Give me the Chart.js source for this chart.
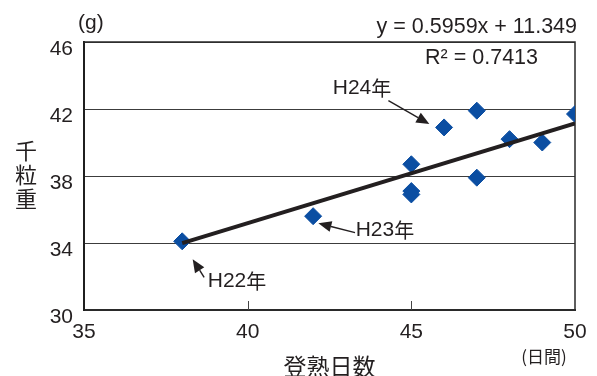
<!DOCTYPE html>
<html>
<head>
<meta charset="utf-8">
<script src="https://cdn.jsdelivr.net/npm/chart.js@4/dist/chart.umd.min.js"></script>
<style>
  html, body { margin: 0; padding: 0; background: #fff; }
  #wrap { width: 597px; height: 376px; position: relative; }
</style>
</head>
<body>
<div id="wrap"><canvas id="c" width="597" height="376"></canvas></div>
<script>
// 登熟日数 (days) vs 千粒重 (g), one point per field/year
const days   = [38, 42, 45, 45, 45, 46, 47, 47, 48, 49, 50];
const weight = [34.1, 35.6, 38.7, 37.1, 36.9, 40.9, 41.9, 37.9, 40.2, 40.0, 41.7];

// linear fit shown in the legend text
const slope = 0.5959;
const intercept = 11.349;
const r2 = 0.7413;
const fitRange = [38, 50];

const xTicks = [35, 40, 45, 50];
const yTicks = [30, 34, 38, 42, 46];

// year callouts: text anchor and arrow (tail -> tip) in data units
const callouts = [
  { year: '24', tx: 42.6,  ty: 43.25, from: [44.3, 42.5],  to: [45.55, 41.1] },
  { year: '23', tx: 43.3,  ty: 34.78, from: [43.28, 34.62], to: [42.16, 35.18] },
  { year: '22', tx: 38.78, ty: 31.73, from: [38.67, 31.95], to: [38.32, 33.03] }
];

const NUM_FONT = "'Liberation Sans', Arial, Helvetica, sans-serif";
const JP_FONT = "'Noto Sans CJK JP', 'Noto Sans', sans-serif";
const INK = '#231f20';

const points = days.map((d, i) => ({ x: d, y: weight[i] }));
const fitLine = fitRange.map(x => ({ x: x, y: slope * x + intercept }));

function arrow(ctx, x1, y1, x2, y2) {
  const ang = Math.atan2(y2 - y1, x2 - x1);
  const L = 13, W = 5.5;
  const bx = x2 - L * Math.cos(ang), by = y2 - L * Math.sin(ang);
  ctx.beginPath();
  ctx.moveTo(x1, y1);
  ctx.lineTo(bx, by);
  ctx.lineWidth = 1.4;
  ctx.strokeStyle = INK;
  ctx.stroke();
  ctx.beginPath();
  ctx.moveTo(x2, y2);
  ctx.lineTo(bx + W * Math.sin(ang), by - W * Math.cos(ang));
  ctx.lineTo(bx - W * Math.sin(ang), by + W * Math.cos(ang));
  ctx.closePath();
  ctx.fillStyle = INK;
  ctx.fill();
}

const decorations = {
  id: 'decorations',
  beforeDatasetsDraw(chart) {
    const { ctx, chartArea: a, scales: { x } } = chart;
    ctx.save();
    // frame: top and right edges
    ctx.strokeStyle = '#2a2a2a';
    ctx.lineWidth = 1.5;
    ctx.beginPath();
    ctx.moveTo(a.left, a.top);
    ctx.lineTo(a.right, a.top);
    ctx.lineTo(a.right, a.bottom);
    ctx.stroke();
    // short inward ticks on the day axis
    ctx.lineWidth = 1;
    ctx.strokeStyle = '#444';
    xTicks.slice(1, -1).forEach(v => {
      const px = Math.round(x.getPixelForValue(v)) + 0.5;
      ctx.beginPath();
      ctx.moveTo(px, a.bottom);
      ctx.lineTo(px, a.bottom - 9);
      ctx.stroke();
    });
    ctx.restore();
  },
  afterDraw(chart) {
    const { ctx, chartArea: a, scales: { x, y } } = chart;
    ctx.save();
    ctx.fillStyle = INK;

    // unit labels
    ctx.font = "21px " + NUM_FONT;
    ctx.textAlign = 'left';
    ctx.textBaseline = 'alphabetic';
    ctx.fillText('(g)', 78, 29);

    ctx.font = "17px " + JP_FONT;
    ctx.textAlign = 'center';
    ctx.textBaseline = 'middle';
    ctx.fillText('(日間)', 544, 357);

    // axis titles
    ctx.font = "22px " + JP_FONT;
    ctx.textAlign = 'center';
    ctx.textBaseline = 'middle';
    ['千', '粒', '重'].forEach((ch, i) => ctx.fillText(ch, 26, 151 + i * 24));
    ctx.font = "23px " + JP_FONT;
    ctx.fillText('登熟日数', (a.left + a.right) / 2, 366);

    // regression text
    ctx.font = "21.5px " + NUM_FONT;
    ctx.textAlign = 'right';
    ctx.textBaseline = 'alphabetic';
    ctx.fillText('y = ' + slope + 'x + ' + intercept, 577, 33);
    ctx.fillText('R\u00B2 = ' + r2, 538, 64);

    // year callouts
    callouts.forEach(c => {
      arrow(ctx, x.getPixelForValue(c.from[0]), y.getPixelForValue(c.from[1]),
                 x.getPixelForValue(c.to[0]), y.getPixelForValue(c.to[1]));
      ctx.font = "21px " + NUM_FONT;
      ctx.textAlign = 'left';
      ctx.textBaseline = 'middle';
      const tx = x.getPixelForValue(c.tx), ty = y.getPixelForValue(c.ty);
      const lead = 'H' + c.year;
      ctx.fillText(lead, tx, ty);
      const w = ctx.measureText(lead).width;
      ctx.font = "20px " + JP_FONT;
      ctx.fillText('年', tx + w, ty);
    });
    ctx.restore();
  }
};

new Chart(document.getElementById('c'), {
  type: 'scatter',
  data: {
    datasets: [
      {
        type: 'line',
        data: fitLine,
        borderColor: INK,
        borderWidth: 4,
        pointRadius: 0,
        borderCapStyle: 'butt',
        fill: false,
        tension: 0
      },
      {
        data: points,
        pointStyle: 'rectRot',
        pointRadius: 8.5,
        pointHoverRadius: 8.5,
        backgroundColor: '#0b4ea2',
        borderColor: '#0b4ea2',
        borderWidth: 1
      }
    ]
  },
  options: {
    responsive: false,
    animation: false,
    events: [],
    layout: { padding: { left: 0, right: 22, top: 42, bottom: 0 } },
    plugins: { legend: { display: false }, tooltip: { enabled: false } },
    scales: {
      x: {
        type: 'linear',
        min: 35, max: 50,
        afterBuildTicks: s => { s.ticks = xTicks.map(v => ({ value: v })); },
        afterFit: s => { s.height = 66; },
        grid: { display: true, drawOnChartArea: false, drawTicks: false },
        border: { display: true, color: '#2a2a2a', width: 2 },
        ticks: {
          padding: 10,
          color: INK,
          maxRotation: 0,
          font: { family: NUM_FONT, size: 21 }
        }
      },
      y: {
        type: 'linear',
        min: 30, max: 46,
        afterBuildTicks: s => { s.ticks = yTicks.map(v => ({ value: v })); },
        afterFit: s => { s.width = 84; },
        grid: { color: '#3c3c3c', lineWidth: 1, drawTicks: false },
        border: { display: true, color: '#1f1f1f', width: 2 },
        ticks: {
          padding: 11,
          color: INK,
          labelOffset: 7,
          font: { family: NUM_FONT, size: 21 }
        }
      }
    }
  },
  plugins: [decorations]
});
</script>
</body>
</html>
